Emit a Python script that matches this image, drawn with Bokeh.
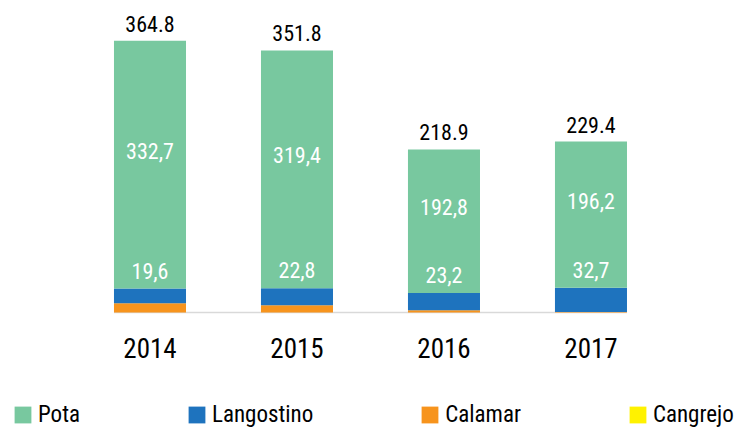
from bokeh.plotting import figure
from bokeh.models import ColumnDataSource, Range1d, Legend, LegendItem
from bokeh.core.properties import value
from bokeh.embed import file_html
from bokeh.resources import INLINE

# ---- data (thousand tonnes) ----
years = ["2014", "2015", "2016", "2017"]
pota = [332.7, 319.4, 192.8, 196.2]
langostino = [19.6, 22.8, 23.2, 32.7]
calamar = [12.5, 9.6, 2.9, 0.5]
cangrejo = [0.0, 0.0, 0.0, 0.0]
totales = [364.8, 351.8, 218.9, 229.4]

FONT = "Roboto Condensed"
C_POTA = "#78C89F"
C_LANG = "#1E73BE"
C_CALA = "#F7941D"
C_CANG = "#FFF200"

xs = list(range(len(years)))
bar_w = 0.49

src = ColumnDataSource(dict(
    x=xs,
    year=years,
    pota=pota,
    langostino=langostino,
    calamar=calamar,
    cangrejo=cangrejo,
    total=totales,
    total_lbl=[f"{t:.1f}" for t in totales],
    pota_lbl=[f"{v:.1f}".replace(".", ",") for v in pota],
    lang_lbl=[f"{v:.1f}".replace(".", ",") for v in langostino],
    lang_top=[a + b + c for a, b, c in zip(cangrejo, calamar, langostino)],
    pota_mid=[a + b + c + d / 2 for a, b, c, d in zip(cangrejo, calamar, langostino, pota)],
    zero=[0] * len(xs),
))

p = figure(width=736, height=430, output_backend="svg", toolbar_location=None,
           x_range=Range1d(-1.017, 3.990), y_range=Range1d(-158.4, 418.8),
           x_axis_type=None, y_axis_type=None, min_border=0,
           outline_line_color=None, background_fill_color="white")
p.grid.visible = False

# baseline
p.segment(x0=[min(xs) - bar_w / 2], x1=[max(xs) + bar_w / 2], y0=[0], y1=[0],
          line_color="#D9D9D9", line_width=1.5)

rs = p.vbar_stack(["cangrejo", "calamar", "langostino", "pota"], x="x", width=bar_w,
                  color=[C_CANG, C_CALA, C_LANG, C_POTA], line_color=None, source=src)
r_cang, r_cala, r_lang, r_pota = rs

# totals
p.text(x="x", y="total", text="total_lbl", source=src, text_align="center",
       text_baseline="alphabetic", y_offset=-17, text_font=value(FONT),
       text_font_size="22px", text_color="black")
# pota labels
p.text(x="x", y="pota_mid", text="pota_lbl", source=src, text_align="center",
       text_baseline="middle", y_offset=-14, text_font=value(FONT),
       text_font_size="22px", text_color="white")
# langostino labels
p.text(x="x", y="lang_top", text="lang_lbl", source=src, text_align="center",
       text_baseline="alphabetic", y_offset=-18, text_font=value(FONT),
       text_font_size="22px", text_color="white")
# year labels
p.text(x="x", y="zero", text="year", source=src, text_align="center",
       text_baseline="alphabetic", y_offset=36, text_font=value(FONT),
       text_font_size="27px", text_color="black")

legend = Legend(items=[LegendItem(label="Pota", renderers=[r_pota]),
                       LegendItem(label="Langostino", renderers=[r_lang]),
                       LegendItem(label="Calamar", renderers=[r_cala]),
                       LegendItem(label="Cangrejo", renderers=[r_cang])],
                orientation="horizontal", location=(12, 2),
                glyph_width=21, glyph_height=21, label_height=21,
                label_standoff=5, spacing=106, padding=0, margin=0,
                border_line_color=None, background_fill_alpha=0,
                label_text_font=FONT, label_text_font_size="23px",
                label_text_color="black")
p.add_layout(legend)

open("out.html", "w").write(file_html(p, INLINE))
